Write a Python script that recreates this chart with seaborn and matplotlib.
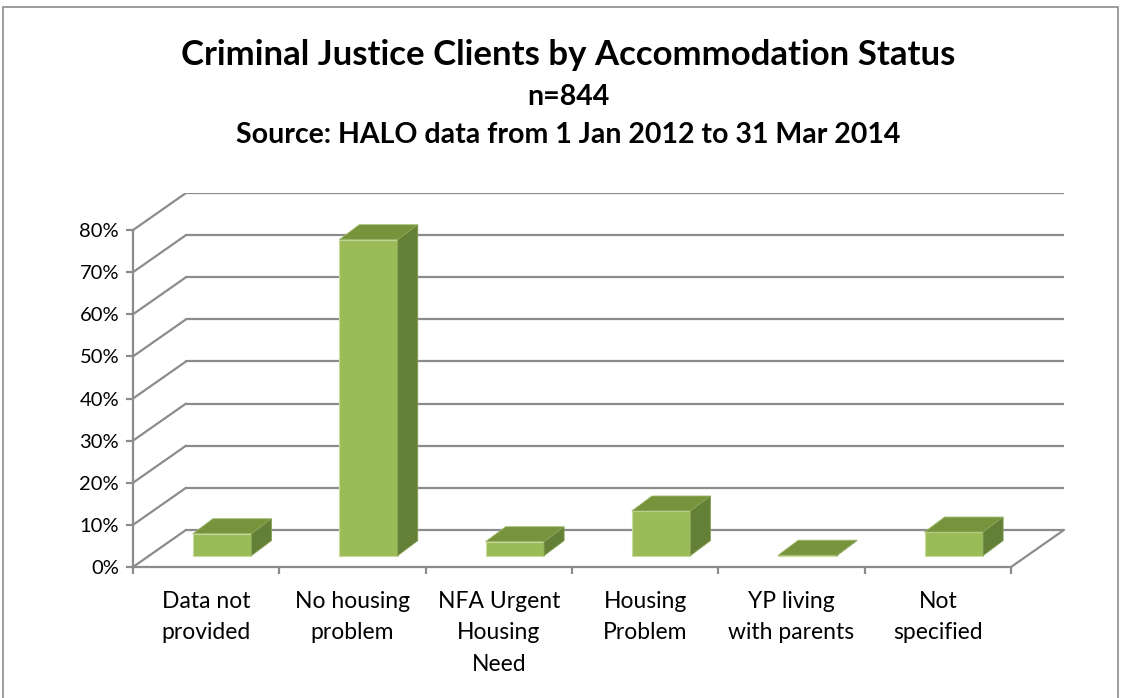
import matplotlib
matplotlib.use("Agg")
import matplotlib.pyplot as plt
from matplotlib.patches import Polygon, Rectangle
import numpy as np
import seaborn as sns

# chart data (percent of clients)
categories = ["Data not\nprovided", "No housing\nproblem", "NFA Urgent\nHousing\nNeed",
              "Housing\nProblem", "YP living\nwith parents", "Not\nspecified"]
values = [5.2, 75.0, 3.3, 10.6, 0.1, 5.6]
y_ticks = [0, 10, 20, 30, 40, 50, 60, 70, 80]
y_tick_labels = [f"{v}%" for v in y_ticks]

title = "Criminal Justice Clients by Accommodation Status"
subtitle1 = "n=844"
subtitle2 = "Source: HALO data from 1 Jan 2012 to 31 Mar 2014"

# colours
front_col = "#9BBB59"
top_col = "#77933C"
side_col = "#647F36"
grid_col = "#8C8C8C"

# 3D look: depth of the floor / walls and of the bars (data units)
DX, DY = 0.362, 8.8
BX, BY = 0.109, 2.7
BDX, BDY = 0.137, 3.56

sns.set_style("white")
plt.rcParams["font.family"] = ["Lato", "DejaVu Sans"]
plt.rcParams["text.color"] = "black"
plt.rcParams["xtick.labelcolor"] = "black"
plt.rcParams["ytick.labelcolor"] = "black"

W, H = 1121, 698
fig = plt.figure(figsize=(W / 100, H / 100), dpi=100)
ax = fig.add_axes([133 / W, (H - 567) / H, (1064 - 133) / W, (567 - 193) / H])

# back wall and left wall grid
for v in y_ticks:
    ax.plot([-0.5 + DX, 5.5 + DX], [v + DY, v + DY], color=grid_col, lw=1.6, zorder=1)
    ax.plot([-0.5, -0.5 + DX], [v, v + DY], color=grid_col, lw=1.6, zorder=1)
# floor right edge
ax.plot([5.5, 5.5 + DX], [0, DY], color=grid_col, lw=1.6, zorder=1, clip_on=False)

# front faces of bars
sns.barplot(x=list(range(len(values))), y=values, color=front_col, width=0.4,
            saturation=1, edgecolor="#C9DC9E", linewidth=0.8, ax=ax, zorder=3)

for p in ax.patches:
    x0 = p.get_x() + BX
    y0 = p.get_y() + BY
    w = p.get_width()
    h = p.get_height()
    p.set_x(x0)
    p.set_y(y0)
    top = Polygon([(x0, y0 + h), (x0 + w, y0 + h), (x0 + w + BDX, y0 + h + BDY),
                   (x0 + BDX, y0 + h + BDY)], closed=True, facecolor=top_col,
                  edgecolor="#9DB86A", lw=0.6, zorder=3)
    side = Polygon([(x0 + w, y0), (x0 + w + BDX, y0 + BDY), (x0 + w + BDX, y0 + h + BDY),
                    (x0 + w, y0 + h)], closed=True, facecolor=side_col,
                   edgecolor="#86A257", lw=0.6, zorder=3)
    ax.add_patch(top)
    ax.add_patch(side)

ax.set_xlim(-0.5, 5.5 + DX)
ax.set_ylim(0, 80 + DY)

for s in ["top", "right"]:
    ax.spines[s].set_visible(False)
for s in ["left", "bottom"]:
    ax.spines[s].set_color(grid_col)
    ax.spines[s].set_linewidth(1.6)
ax.spines["left"].set_bounds(0, 80)
ax.spines["bottom"].set_bounds(-0.5, 5.5)

ax.set_yticks(y_ticks)
ax.set_yticklabels(y_tick_labels, fontsize=14.5, color="black")
ax.set_xticks(np.arange(-0.5, 6, 1))
ax.set_xticklabels([""] * 7)
ax.set_xticks(np.arange(6), minor=True)
ax.set_xticklabels(categories, minor=True, fontsize=16.5, linespacing=1.62, va="top",
                   color="black")
ax.tick_params(axis="y", which="major", length=5, width=1.6, color=grid_col,
               direction="out", left=True, pad=5)
ax.tick_params(axis="x", which="major", length=5, width=1.6, color=grid_col,
               direction="out", bottom=True)
ax.tick_params(axis="x", which="minor", length=0, pad=17)
ax.set_xlabel("")
ax.set_ylabel("")
ax.grid(False)

fig.text(568 / W, 1 - 55 / H, title, ha="center", va="center", fontsize=25,
         fontweight="bold", color="black")
fig.text(568 / W, 1 - 97 / H, subtitle1, ha="center", va="center", fontsize=20.5,
         fontweight="bold", color="black")
fig.text(568 / W, 1 - 135 / H, subtitle2, ha="center", va="center", fontsize=20.5,
         fontweight="bold", color="black")

fig.patches.append(Rectangle((3 / W, -0.05), (1118 - 3) / W, 1.05 - 7 / H,
                             transform=fig.transFigure, fill=False,
                             edgecolor="#8C8C8C", lw=1.2))

fig.savefig("out.png", dpi=100)
